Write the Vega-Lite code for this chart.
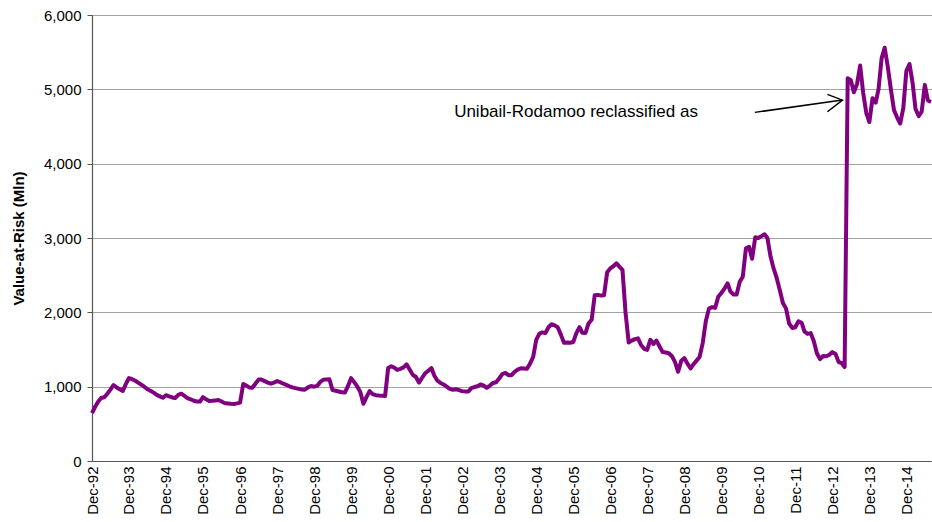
{
  "$schema": "https://vega.github.io/schema/vega-lite/v6.json",
  "width": 839,
  "height": 446,
  "autosize": "none",
  "padding": {"left": 92, "top": 15, "right": 1, "bottom": 61},
  "background": "white",
  "config": {"view": {"stroke": null}, "font": "Liberation Sans", "axis": {"labelOverlap": false}, "axisX": {"labelOverlap": false}},
  "datasets": {
    "var": [
      {"date":"1992/12/01","value":645},
      {"date":"1993/01/01","value":730},{"date":"1993/02/01","value":800},{"date":"1993/03/01","value":847},{"date":"1993/04/01","value":858},{"date":"1993/05/01","value":905},{"date":"1993/06/01","value":960},{"date":"1993/07/01","value":1020},{"date":"1993/08/01","value":990},{"date":"1993/09/01","value":965},{"date":"1993/10/01","value":942},{"date":"1993/11/01","value":1040},{"date":"1993/12/01","value":1116},
      {"date":"1994/01/01","value":1100},{"date":"1994/02/01","value":1080},{"date":"1994/03/01","value":1055},{"date":"1994/04/01","value":1028},{"date":"1994/05/01","value":1000},{"date":"1994/06/01","value":965},{"date":"1994/07/01","value":945},{"date":"1994/08/01","value":920},{"date":"1994/09/01","value":890},{"date":"1994/10/01","value":870},{"date":"1994/11/01","value":850},{"date":"1994/12/01","value":885},
      {"date":"1995/01/01","value":870},{"date":"1995/02/01","value":855},{"date":"1995/03/01","value":847},{"date":"1995/04/01","value":890},{"date":"1995/05/01","value":905},{"date":"1995/06/01","value":875},{"date":"1995/07/01","value":845},{"date":"1995/08/01","value":830},{"date":"1995/09/01","value":810},{"date":"1995/10/01","value":800},{"date":"1995/11/01","value":800},{"date":"1995/12/01","value":860},
      {"date":"1996/01/01","value":830},{"date":"1996/02/01","value":807},{"date":"1996/03/01","value":810},{"date":"1996/04/01","value":815},{"date":"1996/05/01","value":820},{"date":"1996/06/01","value":800},{"date":"1996/07/01","value":780},{"date":"1996/08/01","value":775},{"date":"1996/09/01","value":770},{"date":"1996/10/01","value":767},{"date":"1996/11/01","value":775},{"date":"1996/12/01","value":785},
      {"date":"1997/01/01","value":1036},{"date":"1997/02/01","value":1015},{"date":"1997/03/01","value":990},{"date":"1997/04/01","value":985},{"date":"1997/05/01","value":1040},{"date":"1997/06/01","value":1095},{"date":"1997/07/01","value":1095},{"date":"1997/08/01","value":1075},{"date":"1997/09/01","value":1055},{"date":"1997/10/01","value":1040},{"date":"1997/11/01","value":1055},{"date":"1997/12/01","value":1075},
      {"date":"1998/01/01","value":1060},{"date":"1998/02/01","value":1040},{"date":"1998/03/01","value":1025},{"date":"1998/04/01","value":1005},{"date":"1998/05/01","value":990},{"date":"1998/06/01","value":980},{"date":"1998/07/01","value":970},{"date":"1998/08/01","value":962},{"date":"1998/09/01","value":958},{"date":"1998/10/01","value":990},{"date":"1998/11/01","value":1008},{"date":"1998/12/01","value":1000},
      {"date":"1999/01/01","value":1010},{"date":"1999/02/01","value":1065},{"date":"1999/03/01","value":1092},{"date":"1999/04/01","value":1098},{"date":"1999/05/01","value":1100},{"date":"1999/06/01","value":955},{"date":"1999/07/01","value":945},{"date":"1999/08/01","value":935},{"date":"1999/09/01","value":925},{"date":"1999/10/01","value":920},{"date":"1999/11/01","value":1010},{"date":"1999/12/01","value":1115},
      {"date":"2000/01/01","value":1060},{"date":"2000/02/01","value":1000},{"date":"2000/03/01","value":930},{"date":"2000/04/01","value":770},{"date":"2000/05/01","value":860},{"date":"2000/06/01","value":940},{"date":"2000/07/01","value":900},{"date":"2000/08/01","value":885},{"date":"2000/09/01","value":880},{"date":"2000/10/01","value":878},{"date":"2000/11/01","value":875},{"date":"2000/12/01","value":1250},
      {"date":"2001/01/01","value":1275},{"date":"2001/02/01","value":1255},{"date":"2001/03/01","value":1225},{"date":"2001/04/01","value":1240},{"date":"2001/05/01","value":1260},{"date":"2001/06/01","value":1300},{"date":"2001/07/01","value":1230},{"date":"2001/08/01","value":1160},{"date":"2001/09/01","value":1130},{"date":"2001/10/01","value":1055},{"date":"2001/11/01","value":1120},{"date":"2001/12/01","value":1180},
      {"date":"2002/01/01","value":1215},{"date":"2002/02/01","value":1250},{"date":"2002/03/01","value":1150},{"date":"2002/04/01","value":1080},{"date":"2002/05/01","value":1050},{"date":"2002/06/01","value":1030},{"date":"2002/07/01","value":1000},{"date":"2002/08/01","value":970},{"date":"2002/09/01","value":958},{"date":"2002/10/01","value":966},{"date":"2002/11/01","value":955},{"date":"2002/12/01","value":940},
      {"date":"2003/01/01","value":935},{"date":"2003/02/01","value":935},{"date":"2003/03/01","value":980},{"date":"2003/04/01","value":995},{"date":"2003/05/01","value":1005},{"date":"2003/06/01","value":1030},{"date":"2003/07/01","value":1015},{"date":"2003/08/01","value":985},{"date":"2003/09/01","value":1015},{"date":"2003/10/01","value":1050},{"date":"2003/11/01","value":1060},{"date":"2003/12/01","value":1110},
      {"date":"2004/01/01","value":1170},{"date":"2004/02/01","value":1185},{"date":"2004/03/01","value":1155},{"date":"2004/04/01","value":1155},{"date":"2004/05/01","value":1200},{"date":"2004/06/01","value":1230},{"date":"2004/07/01","value":1248},{"date":"2004/08/01","value":1245},{"date":"2004/09/01","value":1240},{"date":"2004/10/01","value":1310},{"date":"2004/11/01","value":1400},{"date":"2004/12/01","value":1630},
      {"date":"2005/01/01","value":1715},{"date":"2005/02/01","value":1730},{"date":"2005/03/01","value":1720},{"date":"2005/04/01","value":1800},{"date":"2005/05/01","value":1840},{"date":"2005/06/01","value":1825},{"date":"2005/07/01","value":1800},{"date":"2005/08/01","value":1700},{"date":"2005/09/01","value":1590},{"date":"2005/10/01","value":1595},{"date":"2005/11/01","value":1590},{"date":"2005/12/01","value":1600},
      {"date":"2006/01/01","value":1720},{"date":"2006/02/01","value":1800},{"date":"2006/03/01","value":1725},{"date":"2006/04/01","value":1722},{"date":"2006/05/01","value":1850},{"date":"2006/06/01","value":1900},{"date":"2006/07/01","value":2230},{"date":"2006/08/01","value":2235},{"date":"2006/09/01","value":2225},{"date":"2006/10/01","value":2230},{"date":"2006/11/01","value":2540},{"date":"2006/12/01","value":2590},
      {"date":"2007/01/01","value":2620},{"date":"2007/02/01","value":2660},{"date":"2007/03/01","value":2615},{"date":"2007/04/01","value":2570},{"date":"2007/05/01","value":2000},{"date":"2007/06/01","value":1595},{"date":"2007/07/01","value":1620},{"date":"2007/08/01","value":1640},{"date":"2007/09/01","value":1650},{"date":"2007/10/01","value":1560},{"date":"2007/11/01","value":1510},{"date":"2007/12/01","value":1495},
      {"date":"2008/01/01","value":1630},{"date":"2008/02/01","value":1575},{"date":"2008/03/01","value":1620},{"date":"2008/04/01","value":1540},{"date":"2008/05/01","value":1465},{"date":"2008/06/01","value":1460},{"date":"2008/07/01","value":1450},{"date":"2008/08/01","value":1410},{"date":"2008/09/01","value":1330},{"date":"2008/10/01","value":1200},{"date":"2008/11/01","value":1350},{"date":"2008/12/01","value":1385},
      {"date":"2009/01/01","value":1310},{"date":"2009/02/01","value":1245},{"date":"2009/03/01","value":1300},{"date":"2009/04/01","value":1350},{"date":"2009/05/01","value":1400},{"date":"2009/06/01","value":1590},{"date":"2009/07/01","value":1880},{"date":"2009/08/01","value":2050},{"date":"2009/09/01","value":2070},{"date":"2009/10/01","value":2060},{"date":"2009/11/01","value":2210},{"date":"2009/12/01","value":2260},
      {"date":"2010/01/01","value":2320},{"date":"2010/02/01","value":2390},{"date":"2010/03/01","value":2280},{"date":"2010/04/01","value":2240},{"date":"2010/05/01","value":2240},{"date":"2010/06/01","value":2410},{"date":"2010/07/01","value":2480},{"date":"2010/08/01","value":2860},{"date":"2010/09/01","value":2880},{"date":"2010/10/01","value":2720},{"date":"2010/11/01","value":3010},{"date":"2010/12/01","value":3000},
      {"date":"2011/01/01","value":3025},{"date":"2011/02/01","value":3050},{"date":"2011/03/01","value":3000},{"date":"2011/04/01","value":2750},{"date":"2011/05/01","value":2590},{"date":"2011/06/01","value":2460},{"date":"2011/07/01","value":2300},{"date":"2011/08/01","value":2125},{"date":"2011/09/01","value":2050},{"date":"2011/10/01","value":1850},{"date":"2011/11/01","value":1790},{"date":"2011/12/01","value":1800},
      {"date":"2012/01/01","value":1880},{"date":"2012/02/01","value":1860},{"date":"2012/03/01","value":1740},{"date":"2012/04/01","value":1710},{"date":"2012/05/01","value":1720},{"date":"2012/06/01","value":1610},{"date":"2012/07/01","value":1450},{"date":"2012/08/01","value":1370},{"date":"2012/09/01","value":1412},{"date":"2012/10/01","value":1410},{"date":"2012/11/01","value":1430},{"date":"2012/12/01","value":1465},
      {"date":"2013/01/01","value":1440},{"date":"2013/02/01","value":1330},{"date":"2013/03/01","value":1318},{"date":"2013/04/01","value":1264},{"date":"2013/05/01","value":5150},{"date":"2013/06/01","value":5124},{"date":"2013/07/01","value":4960},{"date":"2013/08/01","value":5070},{"date":"2013/09/01","value":5320},{"date":"2013/10/01","value":4950},{"date":"2013/11/01","value":4680},{"date":"2013/12/01","value":4560},
      {"date":"2014/01/01","value":4880},{"date":"2014/02/01","value":4820},{"date":"2014/03/01","value":5000},{"date":"2014/04/01","value":5420},{"date":"2014/05/01","value":5560},{"date":"2014/06/01","value":5300},{"date":"2014/07/01","value":5000},{"date":"2014/08/01","value":4720},{"date":"2014/09/01","value":4620},{"date":"2014/10/01","value":4540},{"date":"2014/11/01","value":4750},{"date":"2014/12/01","value":5250},
      {"date":"2015/01/01","value":5340},{"date":"2015/02/01","value":5080},{"date":"2015/03/01","value":4740},{"date":"2015/04/01","value":4640},{"date":"2015/05/01","value":4700},{"date":"2015/06/01","value":5060},{"date":"2015/07/01","value":4850},{"date":"2015/08/01","value":4830}
    ],
    "arrow": [
      {"part":"shaft","i":0,"date":"2010/10/28","value":4690},
      {"part":"shaft","i":1,"date":"2013/03/10","value":4855},
      {"part":"head","i":0,"date":"2012/10/13","value":4932},
      {"part":"head","i":1,"date":"2013/03/10","value":4855},
      {"part":"head","i":2,"date":"2012/10/13","value":4698}
    ],
    "note": [
      {"date":"2002/09/13","value":4694,"label":"Unibail-Rodamoo reclassified as"}
    ]
  },
  "encoding": {
    "x": {
      "field": "date", "type": "temporal",
      "axis": {
        "title": null,
        "format": "%b-%y",
        "values": [
          {"year":1992,"month":12,"date":1},{"year":1993,"month":12,"date":1},{"year":1994,"month":12,"date":1},{"year":1995,"month":12,"date":1},{"year":1996,"month":12,"date":1},{"year":1997,"month":12,"date":1},{"year":1998,"month":12,"date":1},{"year":1999,"month":12,"date":1},{"year":2000,"month":12,"date":1},{"year":2001,"month":12,"date":1},{"year":2002,"month":12,"date":1},{"year":2003,"month":12,"date":1},{"year":2004,"month":12,"date":1},{"year":2005,"month":12,"date":1},{"year":2006,"month":12,"date":1},{"year":2007,"month":12,"date":1},{"year":2008,"month":12,"date":1},{"year":2009,"month":12,"date":1},{"year":2010,"month":12,"date":1},{"year":2011,"month":12,"date":1},{"year":2012,"month":12,"date":1},{"year":2013,"month":12,"date":1},{"year":2014,"month":12,"date":1}
        ],
        "labelAngle": -90,
        "labelFontSize": 15,
        "labelColor": "#000000",
        "labelPadding": 5,
        "labelFlush": false,
        "labelOverlap": false,
        "labelBound": false,
        "labelSeparation": 0,
        "ticks": false,
        "grid": false,
        "domainColor": "#555555",
        "domainWidth": 1.2
      }
    },
    "y": {
      "field": "value", "type": "quantitative",
      "scale": {"domain": [0, 6000], "nice": false},
      "axis": {
        "title": "Value-at-Risk (Mln)",
        "titleFontSize": 15,
        "titleFontWeight": "bold",
        "titleColor": "#000000",
        "titleX": -74,
        "titleY": 223,
        "titleAngle": -90,
        "titleAlign": "center",
        "titleBaseline": "middle",
        "values": [0, 1000, 2000, 3000, 4000, 5000, 6000],
        "format": ",d",
        "labelFontSize": 15,
        "labelColor": "#000000",
        "labelPadding": 6,
        "tickSize": 5,
        "tickColor": "#555555",
        "domainColor": "#555555",
        "domainWidth": 1.2,
        "grid": true,
        "gridColor": "#444444",
        "gridDash": [1, 1],
        "gridWidth": 1
      }
    }
  },
  "layer": [
    {
      "data": {"name": "var"},
      "mark": {"type": "line", "color": "#800080", "strokeWidth": 4, "strokeJoin": "round"}
    },
    {
      "data": {"name": "arrow"},
      "mark": {"type": "line", "color": "#000000", "strokeWidth": 1.5},
      "encoding": {
        "detail": {"field": "part"},
        "order": {"field": "i"}
      }
    },
    {
      "data": {"name": "note"},
      "mark": {"type": "text", "align": "left", "baseline": "middle", "fontSize": 17, "color": "#000000"},
      "encoding": {
        "text": {"field": "label"}
      }
    }
  ]
}
